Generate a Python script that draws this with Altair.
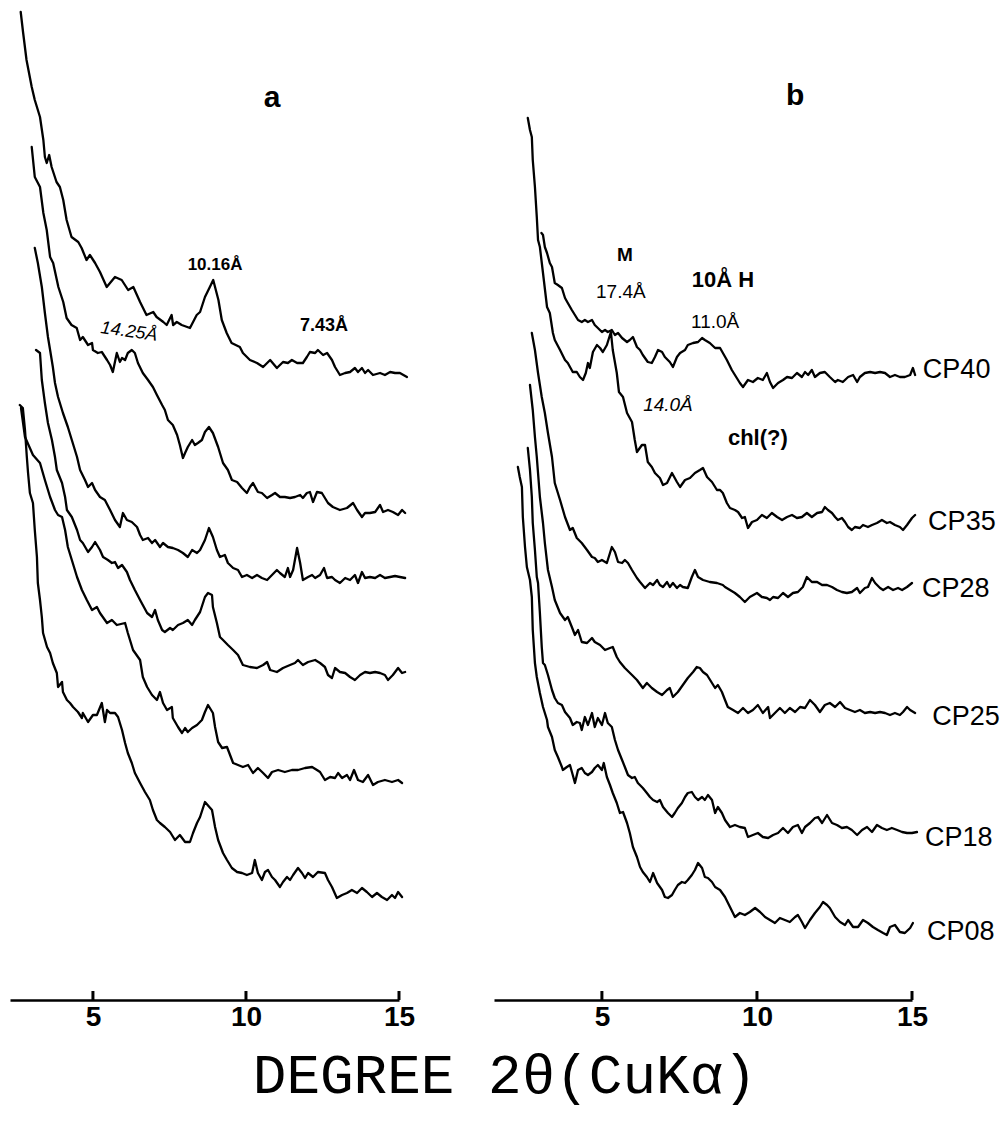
import altair as alt
import pandas as pd

TICKS = [5, 10, 15]
A_DOMAIN = [2.29, 15]
B_DOMAIN = [1.52, 15]

# ---- panel a: (2theta in degrees, relative intensity) ----
A1 = [(2.64,988),(2.72,967),(2.83,940),(3.00,913),(3.10,900),(3.27,883),(3.38,860),(3.43,843),(3.49,837),(3.57,845),(3.65,833),(3.81,818),(3.92,813),(4.03,800),(4.14,780),(4.30,763),(4.52,758),(4.63,752),(4.79,740),(4.90,745),(5.07,737),(5.23,728),(5.45,713),(5.72,723),(5.94,720),(6.15,710),(6.32,713),(6.54,698),(6.75,685),(6.97,688),(7.08,683),(7.30,678),(7.41,675),(7.57,685),(7.62,675),(7.74,678),(7.90,675),(8.17,672),(8.39,685),(8.50,688),(8.66,703),(8.82,713),(8.93,720),(9.10,700),(9.21,680),(9.37,667),(9.53,657),(9.80,653),(9.90,647),(10.13,640),(10.36,637),(10.56,633),(10.79,640),(11.01,632),(11.21,638),(11.37,637),(11.50,640),(11.67,637),(11.86,637),(11.99,643),(12.09,648),(12.26,647),(12.35,650),(12.52,645),(12.65,647),(12.81,640),(12.91,633),(13.07,625),(13.24,627),(13.40,628),(13.56,632),(13.66,628),(13.79,632),(13.89,627),(13.99,630),(14.15,625),(14.38,627),(14.54,625),(14.71,628),(14.87,627),(15.03,627),(15.26,623)]
A2 = [(3.00,853),(3.10,823),(3.27,813),(3.38,787),(3.49,770),(3.60,743),(3.70,737),(3.87,713),(4.03,698),(4.14,682),(4.30,675),(4.47,672),(4.58,660),(4.67,663),(4.84,655),(4.97,657),(5.00,650),(5.16,647),(5.29,648),(5.46,640),(5.56,635),(5.65,628),(5.78,647),(5.88,638),(5.95,642),(6.05,640),(6.14,647),(6.27,650),(6.37,647),(6.47,637),(6.63,627),(6.80,620),(6.96,613),(7.09,605),(7.26,595),(7.35,590),(7.45,580),(7.61,575),(7.75,565),(7.84,555),(7.94,542),(8.01,547),(8.10,553),(8.24,560),(8.33,555),(8.43,557),(8.56,560),(8.66,568),(8.79,573),(8.92,567),(9.09,553),(9.25,537),(9.41,530),(9.54,520),(9.71,518),(9.87,512),(10.03,507),(10.13,513),(10.23,517),(10.39,508),(10.52,507),(10.69,502),(10.85,505),(10.95,507),(11.11,503),(11.27,503),(11.44,502),(11.60,503),(11.77,505),(11.86,502),(11.99,507),(12.09,508),(12.19,498),(12.32,508),(12.48,507),(12.58,502),(12.68,497),(12.84,493),(13.07,490),(13.30,492),(13.50,497),(13.63,490),(13.79,483),(13.89,487),(14.05,487),(14.22,488),(14.38,495),(14.48,488),(14.64,490),(14.80,488),(14.97,485),(15.10,490),(15.20,487)]
A3 = [(3.10,752),(3.20,737),(3.33,713),(3.43,687),(3.53,663),(3.60,650),(3.69,633),(3.76,617),(3.86,603),(4.02,587),(4.18,573),(4.31,560),(4.48,543),(4.58,530),(4.74,520),(4.84,513),(4.97,517),(5.07,510),(5.23,503),(5.39,500),(5.56,490),(5.72,480),(5.88,473),(5.98,487),(6.11,480),(6.27,478),(6.44,473),(6.54,465),(6.63,460),(6.80,462),(6.93,457),(7.03,460),(7.19,453),(7.29,457),(7.45,453),(7.61,452),(7.78,450),(7.94,447),(8.10,443),(8.24,450),(8.40,447),(8.50,450),(8.66,460),(8.79,472),(8.92,463),(9.05,450),(9.15,443),(9.31,445),(9.41,437),(9.58,432),(9.74,430),(9.87,423),(10.03,425),(10.20,422),(10.36,425),(10.52,422),(10.69,420),(10.85,425),(11.01,430),(11.11,427),(11.27,423),(11.37,432),(11.44,423),(11.54,430),(11.67,452),(11.77,437),(11.86,420),(12.03,423),(12.16,425),(12.26,422),(12.42,425),(12.55,432),(12.65,422),(12.81,423),(12.91,420),(13.07,417),(13.24,422),(13.40,420),(13.56,425),(13.66,417),(13.79,428),(13.89,422),(14.05,423),(14.22,422),(14.38,425),(14.54,422),(14.71,423),(14.87,424),(15.03,423),(15.20,422)]
A4 = [(3.14,650),(3.27,647),(3.33,620),(3.43,597),(3.53,577),(3.66,560),(3.76,543),(3.82,530),(3.99,517),(4.09,503),(4.15,490),(4.31,483),(4.48,470),(4.58,460),(4.67,457),(4.84,448),(4.97,453),(5.07,458),(5.23,450),(5.33,443),(5.49,440),(5.62,437),(5.72,438),(5.82,432),(5.95,435),(6.11,428),(6.21,420),(6.37,410),(6.54,400),(6.77,387),(6.93,383),(7.03,390),(7.12,380),(7.26,370),(7.35,368),(7.52,372),(7.61,370),(7.78,375),(7.94,377),(8.10,380),(8.24,375),(8.33,380),(8.50,388),(8.66,403),(8.76,407),(8.89,405),(8.92,393),(9.05,377),(9.15,363),(9.25,360),(9.41,355),(9.58,350),(9.74,345),(9.90,335),(10.13,333),(10.36,332),(10.56,335),(10.69,338),(10.79,330),(11.01,328),(11.21,332),(11.44,335),(11.60,337),(11.70,340),(11.86,335),(12.03,338),(12.26,340),(12.42,337),(12.58,333),(12.68,325),(12.81,322),(12.91,332),(13.07,328),(13.24,327),(13.40,323),(13.56,320),(13.73,325),(13.89,328),(14.05,327),(14.22,328),(14.38,327),(14.54,325),(14.64,320),(14.80,325),(14.97,332),(15.10,327),(15.20,328)]
A5 = [(2.65,592),(2.78,563),(3.04,545),(3.27,537),(3.43,520),(3.60,503),(3.76,490),(3.86,485),(3.99,483),(4.09,470),(4.18,453),(4.31,440),(4.48,423),(4.64,410),(4.80,400),(4.97,390),(5.13,393),(5.23,387),(5.46,377),(5.62,380),(5.78,375),(6.05,377),(6.14,367),(6.31,350),(6.54,340),(6.63,323),(6.77,313),(6.93,305),(7.09,300),(7.19,308),(7.29,297),(7.42,290),(7.58,293),(7.61,282),(7.78,273),(7.91,267),(8.01,272),(8.10,268),(8.24,272),(8.40,275),(8.56,280),(8.66,288),(8.76,295),(8.92,287),(8.99,273),(9.09,258),(9.22,252),(9.38,253),(9.48,245),(9.58,237),(9.74,235),(9.90,233),(10.07,235),(10.23,227),(10.39,232),(10.56,227),(10.72,222),(10.85,228),(11.05,230),(11.27,228),(11.50,230),(11.70,230),(11.93,232),(12.16,233),(12.32,230),(12.42,228),(12.58,220),(12.75,223),(12.91,222),(13.01,227),(13.14,222),(13.30,225),(13.40,220),(13.53,230),(13.66,220),(13.82,218),(13.99,225),(14.15,215),(14.31,218),(14.54,220),(14.77,218),(14.97,220),(15.10,217)]
A6 = [(2.61,595),(2.71,592),(2.78,570),(2.84,543),(2.88,527),(2.94,507),(3.04,497),(3.10,470),(3.17,443),(3.20,417),(3.27,400),(3.33,383),(3.37,367),(3.50,353),(3.60,347),(3.69,337),(3.82,327),(3.86,313),(3.99,318),(4.02,308),(4.15,300),(4.25,297),(4.35,293),(4.51,288),(4.64,282),(4.67,287),(4.84,278),(5.00,285),(5.13,285),(5.29,297),(5.39,278),(5.46,290),(5.56,287),(5.72,287),(5.82,283),(5.95,270),(6.05,257),(6.14,247),(6.27,237),(6.37,227),(6.54,217),(6.70,208),(6.86,200),(6.96,190),(7.09,180),(7.19,177),(7.35,173),(7.52,168),(7.68,160),(7.84,165),(8.01,158),(8.17,158),(8.27,167),(8.40,177),(8.50,183),(8.66,198),(8.89,190),(8.99,173),(9.09,160),(9.25,147),(9.38,140),(9.54,132),(9.71,128),(9.87,127),(10.03,125),(10.20,127),(10.29,140),(10.39,127),(10.52,120),(10.62,128),(10.72,130),(10.85,123),(10.95,120),(11.11,113),(11.21,118),(11.34,123),(11.44,120),(11.54,125),(11.70,132),(11.83,127),(11.93,122),(12.03,127),(12.19,123),(12.35,128),(12.58,127),(12.68,120),(12.81,113),(12.97,102),(13.14,105),(13.30,107),(13.46,110),(13.63,107),(13.79,112),(13.95,108),(14.12,103),(14.28,107),(14.44,103),(14.61,100),(14.77,105),(14.87,102),(14.97,108),(15.10,103)]

# ---- panel b ----
CP40 = [(3.05,767),(3.10,765),(3.16,753),(3.23,747),(3.32,737),(3.39,733),(3.48,717),(3.58,715),(3.71,712),(3.81,702),(3.90,697),(4.03,690),(4.13,685),(4.23,680),(4.35,678),(4.45,680),(4.55,678),(4.68,680),(4.77,675),(4.87,672),(5.00,668),(5.10,670),(5.19,668),(5.32,670),(5.42,665),(5.52,667),(5.65,662),(5.81,658),(5.90,660),(6.00,663),(6.13,653),(6.23,650),(6.32,645),(6.48,638),(6.61,637),(6.71,643),(6.81,650),(6.94,648),(7.03,643),(7.19,638),(7.29,633),(7.42,643),(7.52,647),(7.68,650),(7.77,655),(7.94,657),(8.10,658),(8.23,662),(8.32,660),(8.48,657),(8.65,652),(8.81,652),(9.03,640),(9.19,630),(9.35,622),(9.45,617),(9.55,613),(9.71,620),(9.87,618),(10.03,622),(10.19,620),(10.32,627),(10.42,618),(10.52,612),(10.68,617),(10.84,620),(10.97,623),(11.13,622),(11.29,627),(11.45,623),(11.55,628),(11.65,625),(11.77,630),(11.87,623),(12.03,627),(12.19,628),(12.35,623),(12.52,618),(12.61,620),(12.77,618),(12.94,623),(13.10,625),(13.23,618),(13.32,623),(13.48,627),(13.65,628),(13.81,627),(13.97,628),(14.13,627),(14.29,623),(14.45,625),(14.61,623),(14.77,623),(14.94,625),(15.03,632),(15.10,625)]
CP35 = [(2.61,882),(2.68,870),(2.74,863),(2.77,840),(2.84,813),(2.90,783),(2.94,760),(3.00,753),(3.10,727),(3.23,693),(3.32,687),(3.42,667),(3.48,660),(3.65,650),(3.81,640),(3.90,637),(4.06,628),(4.19,628),(4.29,623),(4.39,620),(4.48,627),(4.55,637),(4.61,632),(4.71,648),(4.84,655),(4.94,652),(5.03,648),(5.16,655),(5.29,668),(5.35,650),(5.48,627),(5.55,608),(5.68,603),(5.81,587),(5.97,578),(6.06,560),(6.13,548),(6.29,555),(6.39,555),(6.48,538),(6.61,533),(6.71,527),(6.87,522),(6.97,515),(7.10,517),(7.26,527),(7.42,518),(7.52,513),(7.68,520),(7.84,522),(8.00,527),(8.16,530),(8.26,532),(8.39,523),(8.55,518),(8.71,510),(8.81,510),(8.90,507),(9.03,497),(9.13,492),(9.29,490),(9.39,488),(9.52,482),(9.61,483),(9.71,472),(9.84,478),(10.00,480),(10.16,485),(10.32,482),(10.48,487),(10.65,483),(10.81,480),(10.97,483),(11.13,485),(11.29,482),(11.45,483),(11.61,487),(11.77,483),(11.94,487),(12.10,488),(12.19,493),(12.29,490),(12.42,487),(12.52,483),(12.61,480),(12.74,482),(12.84,478),(12.94,473),(13.06,470),(13.16,473),(13.32,472),(13.42,475),(13.58,473),(13.71,475),(13.87,477),(14.03,480),(14.19,477),(14.29,478),(14.45,475),(14.61,473),(14.71,470),(14.84,475),(15.00,482),(15.10,485)]
CP28 = [(2.74,667),(2.84,650),(2.94,627),(3.06,603),(3.16,587),(3.26,567),(3.39,543),(3.48,517),(3.65,500),(3.81,483),(3.97,470),(4.06,472),(4.19,462),(4.35,457),(4.52,450),(4.68,443),(4.77,442),(4.87,438),(5.00,440),(5.16,437),(5.26,447),(5.32,453),(5.42,448),(5.52,438),(5.65,437),(5.74,440),(5.84,437),(5.97,430),(6.13,422),(6.23,418),(6.39,412),(6.55,417),(6.65,415),(6.78,420),(6.87,415),(6.97,413),(7.10,418),(7.19,413),(7.29,417),(7.42,412),(7.52,415),(7.61,413),(7.77,412),(7.90,423),(8.00,430),(8.10,423),(8.26,420),(8.48,418),(8.71,417),(8.90,415),(8.97,413),(9.13,410),(9.29,407),(9.45,403),(9.61,398),(9.77,403),(10.00,407),(10.16,403),(10.32,402),(10.42,400),(10.52,403),(10.68,402),(10.84,407),(11.00,403),(11.16,407),(11.32,408),(11.48,413),(11.61,423),(11.77,418),(11.94,418),(12.10,415),(12.26,415),(12.42,413),(12.58,410),(12.74,408),(12.90,407),(13.06,408),(13.23,412),(13.32,407),(13.48,412),(13.58,413),(13.71,422),(13.81,417),(13.97,412),(14.07,410),(14.23,413),(14.39,410),(14.55,412),(14.68,410),(14.84,413),(15.00,417)]
CP25 = [(2.68,615),(2.77,590),(2.84,563),(2.90,543),(2.94,527),(3.00,503),(3.10,477),(3.16,457),(3.26,430),(3.39,413),(3.48,400),(3.65,387),(3.81,380),(3.90,383),(4.03,373),(4.13,365),(4.23,370),(4.35,358),(4.52,357),(4.68,362),(4.77,358),(4.94,355),(5.10,350),(5.26,352),(5.35,353),(5.48,343),(5.58,338),(5.74,332),(5.97,325),(6.13,320),(6.32,312),(6.45,317),(6.61,312),(6.78,308),(6.94,305),(7.10,310),(7.19,312),(7.29,303),(7.45,308),(7.61,315),(7.77,322),(7.94,328),(8.06,333),(8.16,332),(8.26,328),(8.39,325),(8.55,317),(8.65,312),(8.74,315),(8.87,308),(8.97,300),(9.06,293),(9.23,290),(9.39,287),(9.55,292),(9.71,287),(9.87,290),(10.03,295),(10.19,287),(10.36,293),(10.42,282),(10.58,287),(10.74,292),(10.90,287),(11.06,292),(11.23,288),(11.39,293),(11.55,292),(11.71,300),(11.87,295),(12.03,288),(12.19,295),(12.35,297),(12.52,293),(12.68,298),(12.84,292),(13.00,290),(13.16,288),(13.32,290),(13.48,287),(13.65,288),(13.81,287),(13.97,288),(14.13,287),(14.29,285),(14.45,287),(14.61,285),(14.71,288),(14.84,293),(14.94,290),(15.10,287)]
CP18 = [(2.61,552),(2.68,530),(2.74,503),(2.77,477),(2.84,450),(2.90,423),(2.94,417),(3.00,387),(3.06,353),(3.10,337),(3.16,335),(3.26,325),(3.39,310),(3.48,302),(3.58,297),(3.71,295),(3.81,288),(3.97,282),(4.06,275),(4.19,278),(4.29,277),(4.35,270),(4.45,283),(4.55,275),(4.68,287),(4.77,273),(4.87,282),(5.00,275),(5.10,287),(5.19,277),(5.32,273),(5.42,260),(5.52,250),(5.65,240),(5.74,233),(5.84,225),(5.97,222),(6.06,223),(6.16,217),(6.32,212),(6.45,207),(6.55,203),(6.65,200),(6.78,198),(6.87,200),(6.97,193),(7.13,187),(7.26,183),(7.35,187),(7.45,192),(7.58,197),(7.68,203),(7.77,207),(7.90,208),(8.00,203),(8.10,200),(8.23,203),(8.32,200),(8.42,205),(8.55,200),(8.65,187),(8.74,193),(8.87,187),(8.97,180),(9.13,173),(9.29,175),(9.45,173),(9.61,172),(9.71,163),(9.87,165),(10.03,167),(10.19,163),(10.36,162),(10.52,165),(10.68,167),(10.84,172),(11.00,167),(11.16,173),(11.32,175),(11.45,167),(11.55,173),(11.71,177),(11.87,182),(11.97,183),(12.10,177),(12.26,185),(12.42,177),(12.58,175),(12.74,172),(12.90,173),(13.06,170),(13.23,165),(13.39,170),(13.55,173),(13.71,168),(13.87,175),(14.03,172),(14.19,170),(14.35,172),(14.52,170),(14.68,168),(14.84,167),(15.00,167),(15.16,168)]
CP08 = [(2.29,533),(2.35,523),(2.42,513),(2.45,483),(2.52,453),(2.58,433),(2.68,420),(2.74,403),(2.77,370),(2.84,337),(2.90,323),(3.00,307),(3.10,293),(3.23,280),(3.26,273),(3.39,263),(3.48,250),(3.58,243),(3.71,233),(3.74,230),(3.87,233),(3.97,235),(4.06,225),(4.13,217),(4.23,230),(4.35,232),(4.45,227),(4.55,225),(4.68,228),(4.77,232),(4.87,235),(5.00,230),(5.06,237),(5.16,223),(5.26,215),(5.35,207),(5.48,197),(5.58,187),(5.68,188),(5.81,177),(5.90,167),(6.00,153),(6.13,143),(6.23,133),(6.32,128),(6.45,123),(6.55,118),(6.65,127),(6.78,117),(6.94,110),(7.03,103),(7.13,102),(7.26,105),(7.35,110),(7.45,115),(7.58,118),(7.68,117),(7.77,120),(7.90,125),(8.00,130),(8.10,137),(8.23,132),(8.32,123),(8.42,122),(8.55,118),(8.65,113),(8.81,110),(8.97,103),(9.13,93),(9.29,83),(9.45,87),(9.61,85),(9.77,88),(9.94,92),(10.10,88),(10.26,83),(10.42,80),(10.58,77),(10.74,82),(10.90,80),(11.06,78),(11.23,83),(11.32,85),(11.45,78),(11.55,72),(11.71,80),(11.87,87),(12.03,93),(12.13,98),(12.26,95),(12.35,92),(12.52,83),(12.68,78),(12.84,75),(12.94,80),(13.10,73),(13.26,73),(13.42,80),(13.58,77),(13.74,73),(13.90,70),(14.07,67),(14.19,65),(14.29,73),(14.45,75),(14.61,68),(14.77,67),(14.94,72),(15.03,77)]

PANEL_A = [("a1", A1), ("a2", A2), ("a3", A3), ("a4", A4), ("a5", A5), ("a6", A6)]
PANEL_B = [("CP40", CP40), ("CP35", CP35), ("CP28", CP28), ("CP25", CP25), ("CP18", CP18), ("CP08", CP08)]

# annotations: text, 2theta, intensity, size, weight, style, angle, align
NOTES_A = [
    ("a", 10.85, 902, 30, "bold", "normal", 0, "center"),
    ("10.16Å", 8.99, 735, 17, "bold", "normal", 0, "center"),
    ("14.25Å", 6.18, 668, 18, "normal", "italic", 8, "center"),
    ("7.43Å", 12.55, 674, 18, "bold", "normal", 0, "center"),
]
NOTES_B = [
    ("b", 11.23, 904, 30, "bold", "normal", 0, "center"),
    ("M", 5.74, 745, 19, "bold", "normal", 0, "center"),
    ("17.4Å", 5.61, 708, 19, "normal", "normal", 0, "center"),
    ("10Å  H", 8.90, 720, 22, "bold", "normal", 0, "center"),
    ("11.0Å", 8.65, 678, 19, "normal", "normal", 0, "center"),
    ("14.0Å", 7.13, 595, 19, "normal", "italic", 0, "center"),
    ("chl(?)", 10.03, 562, 22, "bold", "normal", 0, "center"),
    ("CP40", 15.35, 630, 27, "normal", "normal", 0, "left"),
    ("CP35", 15.52, 478, 27, "normal", "normal", 0, "left"),
    ("CP28", 15.32, 411, 27, "normal", "normal", 0, "left"),
    ("CP25", 15.65, 283, 27, "normal", "normal", 0, "left"),
    ("CP18", 15.42, 162, 27, "normal", "normal", 0, "left"),
    ("CP08", 15.48, 68, 27, "normal", "normal", 0, "left"),
]

FONT = "Liberation Sans"


def frame(traces):
    rows = []
    for name, pts in traces:
        for i, (x, y) in enumerate(pts):
            rows.append({"trace": name, "i": i, "theta": x, "inten": y})
    return pd.DataFrame(rows)


def x_axis():
    return alt.Axis(
        values=TICKS, format="d", title=None, grid=False, ticks=False,
        labelFont=FONT, labelFontWeight="bold", labelFontSize=28,
        labelColor="black", labelPadding=3, domainColor="black",
        domainWidth=2.5, labelFlush=False, labelOverlap=False)


def panel(traces, domain, width, notes):
    xs = alt.Scale(domain=domain, nice=False, zero=False)
    ys = alt.Scale(domain=[0, 1000], nice=False, zero=False)
    lines = alt.Chart(frame(traces)).mark_line(
        color="black", strokeWidth=2.3, strokeJoin="round", strokeCap="round"
    ).encode(
        x=alt.X("theta:Q", scale=xs, axis=x_axis()),
        y=alt.Y("inten:Q", scale=ys, axis=None),
        detail="trace:N",
        order="i:Q",
    )
    ticks = alt.Chart(pd.DataFrame({"theta": TICKS})).mark_rule(
        color="black", strokeWidth=3
    ).encode(
        x=alt.X("theta:Q", scale=xs, axis=x_axis()),
        y=alt.value(1000),
        y2=alt.value(991),
    )
    layers = [lines, ticks]
    for text, x, y, size, weight, style, angle, align in notes:
        layers.append(
            alt.Chart(pd.DataFrame({"theta": [x], "inten": [y], "label": [text]})).mark_text(
                font=FONT, fontSize=size, fontWeight=weight, fontStyle=style,
                angle=angle, align=align, baseline="middle", color="black"
            ).encode(
                x=alt.X("theta:Q", scale=xs, axis=x_axis()),
                y=alt.Y("inten:Q", scale=ys, axis=None),
                text="label:N",
            )
        )
    return alt.layer(*layers).properties(width=width, height=1000)


pa = panel(PANEL_A, A_DOMAIN, 389, NOTES_A)
pb = panel(PANEL_B, B_DOMAIN, 418, NOTES_B)

chart = alt.hconcat(
    pa, pb, spacing=95, bounds="flush",
    title=alt.TitleParams(
        text="DEGREE 2θ(CuKα)", orient="bottom", anchor="middle",
        font="Liberation Mono", fontSize=56, fontWeight="normal",
        color="black", offset=18, dx=0,
    ),
).configure_view(stroke=None).properties(
    padding={"left": 10, "top": 0, "right": 0, "bottom": 20},
    background="white",
)

chart.save("out.html", embed_options={"renderer": "svg", "actions": False})
